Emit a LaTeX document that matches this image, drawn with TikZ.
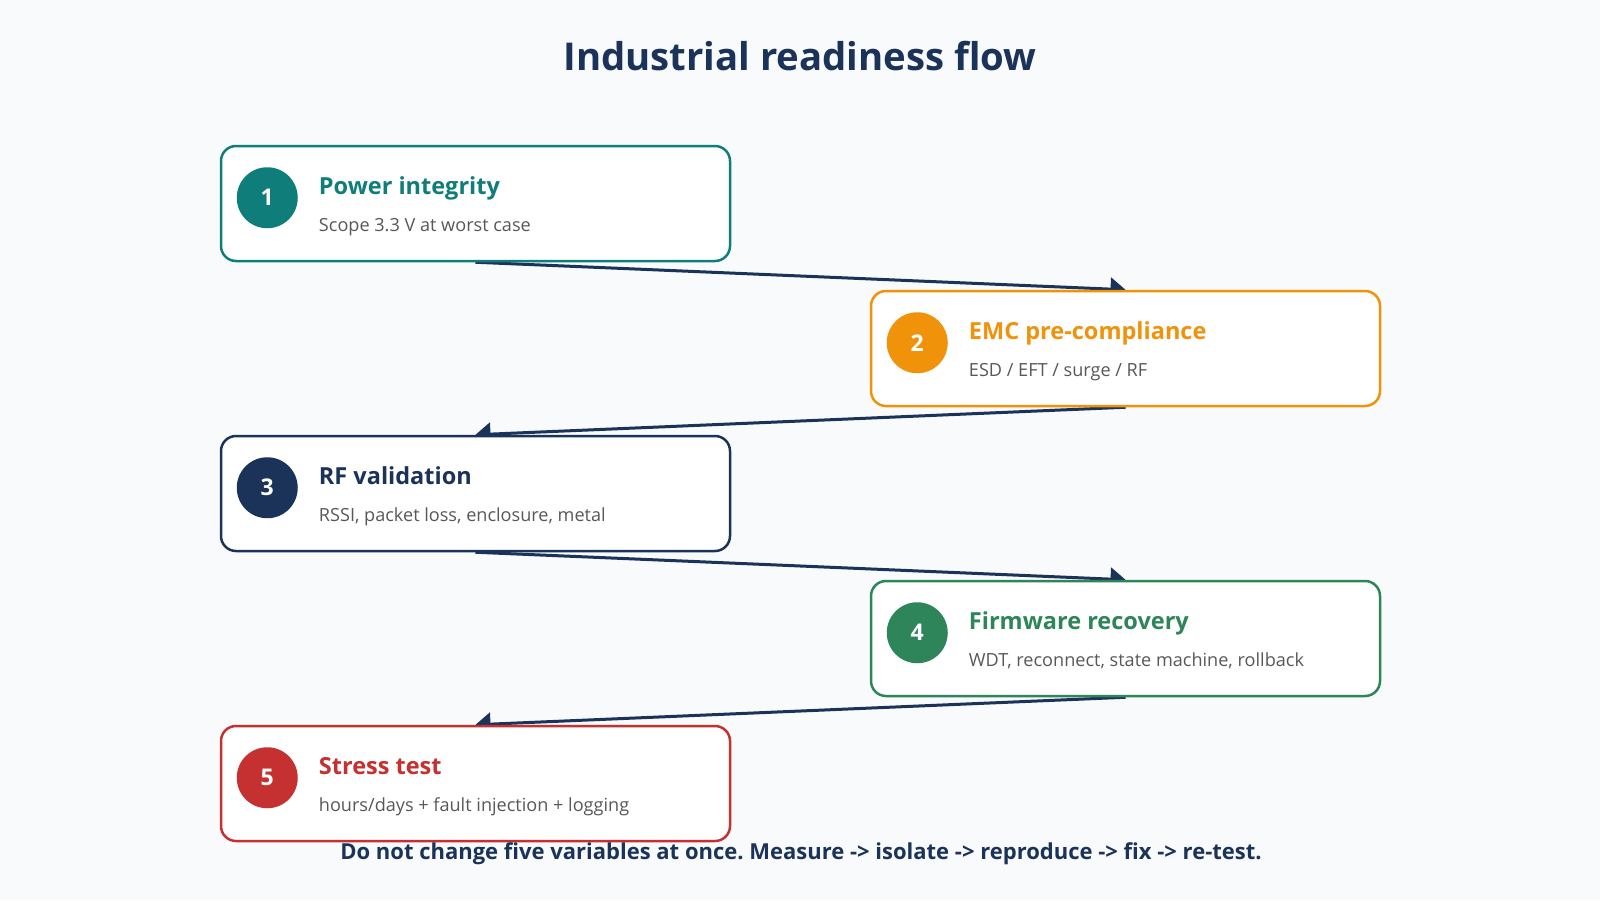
\documentclass[tikz,border=0pt]{standalone}
\usepackage{fontspec}
\setmainfont{Open Sans}
\usetikzlibrary{arrows.meta,calc,backgrounds}
\definecolor{bgc}{RGB}{248,250,252}
\definecolor{cteal}{RGB}{15,125,122}
\definecolor{corange}{RGB}{240,146,10}
\definecolor{cnavy}{RGB}{27,51,88}
\definecolor{cgreen}{RGB}{47,133,90}
\definecolor{cred}{RGB}{197,48,48}
\definecolor{cgrey}{RGB}{88,88,88}
\pgfdeclarelayer{bgzero}
\pgfdeclarelayer{arrows}
\pgfsetlayers{bgzero,arrows,main}
\tikzset{
  stepbox/.style={draw=#1, line width=2.5pt, fill=white, rounded corners=15pt,
    minimum width=509pt, minimum height=115pt, inner sep=0pt},
  badge/.style={circle, fill=#1, minimum size=61pt, inner sep=0pt,
    text=white, font=\fontsize{23}{26}\selectfont\bfseries},
  steptitle/.style={anchor=base west, inner sep=0pt, text=#1,
    font=\fontsize{23.5}{26}\selectfont\bfseries},
  stepsub/.style={anchor=base west, inner sep=0pt, text=cgrey,
    font=\fontsize{18.1}{22}\selectfont},
  flow/.style={draw=cnavy, line width=3pt, -{Triangle[length=15pt,width=23pt]}},
}
\newcommand{\flowstep}[6]{%
  \node[stepbox=#3] (#1) at #2 {};
  \node[badge=#3] (#1n) at ($(#1.north west)+(47.5,53)$) {#4};
  \node[steptitle=#3] (#1t) at ($(#1.north west)+(99,50)$) {#5};
  \node[stepsub] (#1s) at ($(#1.north west)+(99,86.5)$) {#6};
}
\begin{document}
\frenchspacing
\begin{tikzpicture}[x=1pt,y=-1pt]
\begin{pgfonlayer}{bgzero}
\fill[bgc] (0,0) rectangle (1600,900);
\end{pgfonlayer}
\useasboundingbox (0,0) rectangle (1600,900);
\node[anchor=base, inner sep=0pt, text=cnavy, font=\fontsize{38.3}{42}\selectfont\bfseries] (title) at (800,70) {Industrial readiness flow};
\flowstep{b1}{(475.5,203.5)}{cteal}{1}{Power integrity}{Scope 3.3 V at worst case}
\flowstep{b2}{(1125.5,348.5)}{corange}{2}{EMC pre-compliance}{ESD / EFT / surge / RF}
\flowstep{b3}{(475.5,493.5)}{cnavy}{3}{RF validation}{RSSI, packet loss, enclosure, metal}
\flowstep{b4}{(1125.5,638.5)}{cgreen}{4}{Firmware recovery}{WDT, reconnect, state machine, rollback}
\flowstep{b5}{(475.5,783.5)}{cred}{5}{Stress test}{hours/days + fault injection + logging}
\begin{pgfonlayer}{arrows}
\draw[flow] (b1.south) -- (b2.north);
\draw[flow] (b2.south) -- (b3.north);
\draw[flow] (b3.south) -- (b4.north);
\draw[flow] (b4.south) -- (b5.north);
\end{pgfonlayer}
\node[anchor=base, inner sep=0pt, text=cnavy, font=\fontsize{22}{26}\selectfont\bfseries] (footer) at (801,859) {Do not change five variables at once. Measure -> isolate -> reproduce -> fix -> re-test.};
\end{tikzpicture}
\end{document}
